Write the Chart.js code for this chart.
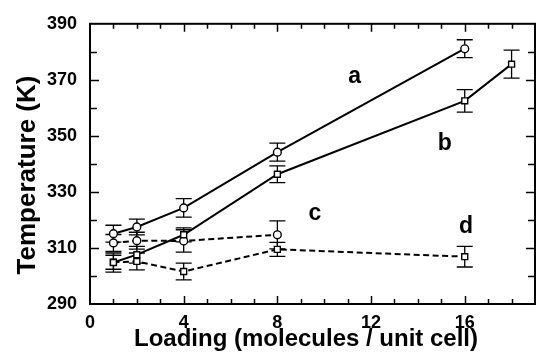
<!DOCTYPE html>
<html>
<head>
<meta charset="utf-8">
<script src="https://cdn.jsdelivr.net/npm/chart.js@4/dist/chart.umd.min.js"></script>
<style>
  html, body { margin: 0; padding: 0; background: #fff; }
  #wrap { width: 543px; height: 354px; }
</style>
</head>
<body>
<div id="wrap"><canvas id="c" width="543" height="354"></canvas></div>
<script>
// Loading (molecules per unit cell) and temperature (K) for the four curves
const loadA = [1, 2, 4, 8, 16];
const tempA = [315.1, 317.5, 324.3, 344.2, 381.1];
const errA  = [3.0, 2.8, 3.3, 3.2, 3.2];

const loadB = [1, 2, 4, 8, 16, 18];
const tempB = [304.8, 307.6, 314.7, 336.3, 362.5, 375.6];
const errB  = [3.4, 3.0, 2.5, 3.0, 4.0, 5.0];

const loadC = [1, 2, 4, 8];
const tempC = [311.8, 312.6, 312.5, 314.7];
const errC  = [3.0, 3.0, 4.0, 5.0];

const loadD = [1, 2, 4, 8, 16];
const tempD = [304.9, 305.2, 301.6, 309.5, 306.9];
const errD  = [2.5, 3.0, 3.0, 2.5, 3.7];

const curveNames = ['a', 'b', 'c', 'd'];
const xTickLabels = [0, 4, 8, 12, 16];
const yTickLabels = [290, 310, 330, 350, 370, 390];

// curve letter placement (baseline) in data units
const nameLoad = [11.3, 15.15, 9.6, 16.05];
const nameTemp = [368.9, 345.0, 320.0, 315.3];

const FONT = '"Liberation Sans", Arial, Helvetica, sans-serif';

function pts(xs, ys, es) {
  return xs.map((x, i) => ({ x: x, y: ys[i], e: es[i] }));
}

function series(label, data, shape, dashed) {
  return {
    label: label,
    data: data,
    showLine: true,
    borderColor: '#000',
    borderWidth: 2,
    borderDash: dashed ? [6, 3.5] : [],
    pointStyle: shape,
    pointRadius: shape === 'rect' ? 4.2 : 3.9,
    pointBackgroundColor: '#fff',
    pointBorderColor: '#000',
    pointBorderWidth: 1.4,
    fill: false,
    tension: 0
  };
}

const datasets = [
  series(curveNames[0], pts(loadA, tempA, errA), 'circle', false),
  series(curveNames[1], pts(loadB, tempB, errB), 'rect', false),
  series(curveNames[2], pts(loadC, tempC, errC), 'circle', true),
  series(curveNames[3], pts(loadD, tempD, errD), 'rect', true)
];

// error bars beneath the markers
const errorBars = {
  id: 'errorBars',
  beforeDatasetsDraw(chart) {
    const { ctx, scales: { x, y } } = chart;
    ctx.save();
    ctx.strokeStyle = '#000';
    ctx.lineWidth = 1.3;
    ctx.setLineDash([]);
    chart.data.datasets.forEach(ds => {
      ds.data.forEach(p => {
        const px = x.getPixelForValue(p.x);
        const top = y.getPixelForValue(p.y + p.e);
        const bot = y.getPixelForValue(p.y - p.e);
        ctx.beginPath();
        ctx.moveTo(px, top); ctx.lineTo(px, bot);
        ctx.moveTo(px - 8, top); ctx.lineTo(px + 8, top);
        ctx.moveTo(px - 8, bot); ctx.lineTo(px + 8, bot);
        ctx.stroke();
      });
    });
    ctx.restore();
  }
};

// frame, inward ticks on all four sides, curve letters and axis titles
const decor = {
  id: 'decor',
  afterDraw(chart) {
    const { ctx, chartArea: a, scales: { x, y } } = chart;
    ctx.save();
    ctx.strokeStyle = '#000';
    ctx.setLineDash([]);
    ctx.lineWidth = 2;
    ctx.strokeRect(a.left, a.top, a.right - a.left, a.bottom - a.top);

    ctx.lineWidth = 1.5;
    ctx.beginPath();
    x.ticks.forEach(t => {
      if (t.value <= x.min || t.value >= x.max) return;
      const px = Math.round(x.getPixelForValue(t.value)) + 0.5;
      const len = t.value % 4 === 0 ? 8 : 5;
      ctx.moveTo(px, a.bottom); ctx.lineTo(px, a.bottom - len);
      ctx.moveTo(px, a.top); ctx.lineTo(px, a.top + len);
    });
    y.ticks.forEach(t => {
      if (t.value <= y.min || t.value >= y.max) return;
      const py = Math.round(y.getPixelForValue(t.value)) + 0.5;
      const len = (t.value - 290) % 20 === 0 ? 9 : 7;
      ctx.moveTo(a.left, py); ctx.lineTo(a.left + len, py);
      ctx.moveTo(a.right, py); ctx.lineTo(a.right - len, py);
    });
    ctx.stroke();

    ctx.fillStyle = '#000';
    ctx.font = 'bold 23px ' + FONT;
    ctx.textAlign = 'center';
    ctx.textBaseline = 'alphabetic';
    curveNames.forEach((n, i) => {
      ctx.fillText(n, x.getPixelForValue(nameLoad[i]), y.getPixelForValue(nameTemp[i]));
    });

    ctx.textBaseline = 'middle';
    ctx.font = 'bold 24px ' + FONT;
    ctx.fillText('Loading (molecules / unit cell)', 306, 339);
    ctx.font = 'bold 26px ' + FONT;
    ctx.translate(28, 175);
    ctx.rotate(-Math.PI / 2);
    ctx.fillText('Temperature (K)', 0, 0);
    ctx.restore();
  }
};

new Chart(document.getElementById('c'), {
  type: 'scatter',
  data: { datasets: datasets },
  plugins: [errorBars, decor],
  options: {
    responsive: false,
    animation: false,
    devicePixelRatio: 1,
    layout: { padding: { top: 18, right: 2, left: 0, bottom: 0 } },
    plugins: { legend: { display: false }, tooltip: { enabled: false } },
    scales: {
      x: {
        type: 'linear',
        min: 0,
        max: 19,
        afterFit(s) { s.height = 50; },
        grid: { drawOnChartArea: false, drawTicks: false },
        border: { display: false },
        ticks: {
          stepSize: 1,
          autoSkip: false,
          maxRotation: 0,
          padding: 8,
          color: '#000',
          font: { family: FONT, size: 18, weight: 'bold' },
          callback: v => (xTickLabels.includes(v) ? String(v) : '')
        }
      },
      y: {
        type: 'linear',
        min: 290,
        max: 390,
        afterFit(s) { s.width = 90; },
        grid: { drawOnChartArea: false, drawTicks: false },
        border: { display: false },
        ticks: {
          stepSize: 10,
          autoSkip: false,
          padding: 13,
          color: '#000',
          font: { family: FONT, size: 18, weight: 'bold' },
          callback: v => (yTickLabels.includes(v) ? String(v) : '')
        }
      }
    }
  }
});
</script>
</body>
</html>
